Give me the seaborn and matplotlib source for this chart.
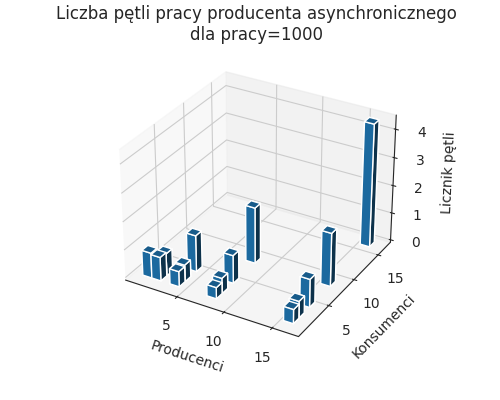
import numpy as np
import matplotlib
matplotlib.use('Agg')
import matplotlib.pyplot as plt
import seaborn as sns

producers = [1, 2, 2, 4, 4, 4, 8, 8, 8, 8, 16, 16, 16, 16, 16]
consumers = [1, 1, 2, 1, 2, 4, 1, 2, 4, 8, 1, 2, 4, 8, 16]
loops = [0.9, 0.85, 0.8, 0.55, 0.6, 1.3, 0.4, 0.55, 1.0, 2.0, 0.5, 0.6, 1.0, 1.9, 4.4]

sns.set_style("white")
plt.rcParams['font.family'] = ['DejaVu Sans']

fig = plt.figure(figsize=(5, 4), dpi=100)
ax = fig.add_subplot(111, projection='3d')
ax.bar3d(np.array(producers) - 0.5, np.array(consumers) - 0.5, 0, 1, 1, loops, color='tab:blue', shade=True)
ax.set_title('Liczba pętli pracy producenta asynchronicznego\ndla pracy=1000')
ax.set_xlabel('Producenci')
ax.set_ylabel('Konsumenci')
ax.set_zlabel('Licznik pętli')
ax.set_xticks([5, 10, 15])
ax.set_yticks([5, 10, 15])
plt.savefig('out.png', dpi=100)
